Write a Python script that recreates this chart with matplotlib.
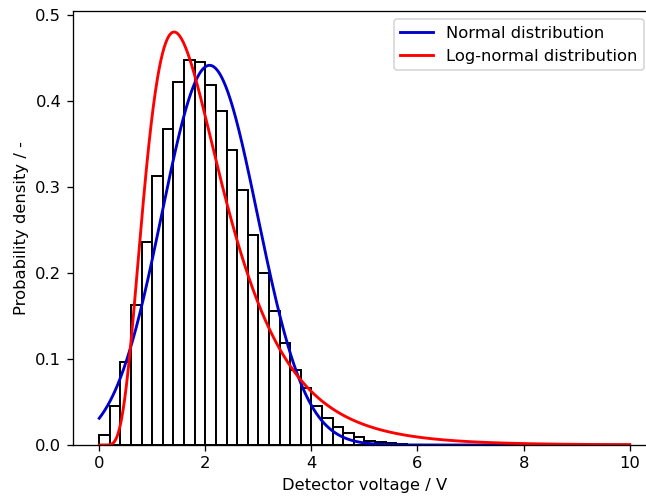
import numpy as np
import matplotlib
matplotlib.use('Agg')
import matplotlib.pyplot as plt

# histogram of detector voltage (bin width 0.2 V, starting at 0)
bin_width = 0.2
hist_heights = [0.012, 0.045, 0.096, 0.163, 0.236, 0.313, 0.368, 0.422, 0.448, 0.446,
                0.419, 0.389, 0.343, 0.297, 0.244, 0.200, 0.156, 0.119, 0.087, 0.066,
                0.045, 0.031, 0.021, 0.014, 0.009, 0.005, 0.003, 0.002, 0.001, 0.0005]
bin_lefts = np.arange(len(hist_heights)) * bin_width

# fitted distributions (parameters)
norm_mu = 2.08
norm_sigma = 0.903
logn_mu = 0.61
logn_sigma = 0.515

x = np.linspace(0, 10, 1000)
pdf_norm = np.exp(-0.5 * ((x - norm_mu) / norm_sigma)**2) / (norm_sigma * np.sqrt(2 * np.pi))
xs = np.where(x > 0, x, 1e-12)
pdf_logn = np.exp(-0.5 * ((np.log(xs) - logn_mu) / logn_sigma)**2) / (xs * logn_sigma * np.sqrt(2 * np.pi))
pdf_logn[x <= 0] = 0

dpi = 117.5
fig = plt.figure(figsize=(646 / dpi, 496 / dpi), dpi=dpi)
ax = fig.add_axes([72.7 / 646, 51 / 496, (656.2 - 72.7) / 646, (445 - 11) / 496])

ax.bar(bin_lefts, hist_heights, width=bin_width, align='edge',
       color='white', edgecolor='black', linewidth=1.2)
ax.plot(x, pdf_norm, color='mediumblue', lw=1.75, label='Normal distribution')
ax.plot(x, pdf_logn, color='red', lw=1.75, label='Log-normal distribution')

ax.set_xlim(-0.5, 10.5)
ax.set_ylim(0, 0.505)
ax.set_xticks([0, 2, 4, 6, 8, 10])
ax.set_yticks([0.0, 0.1, 0.2, 0.3, 0.4, 0.5])
ax.set_xlabel('Detector voltage / V')
ax.set_ylabel('Probability density / -')
ax.legend(loc='upper right', bbox_to_anchor=(644 / 646, 1 - 19 / 496),
          bbox_transform=fig.transFigure, borderaxespad=0)

fig.savefig('out.png', dpi=dpi)
